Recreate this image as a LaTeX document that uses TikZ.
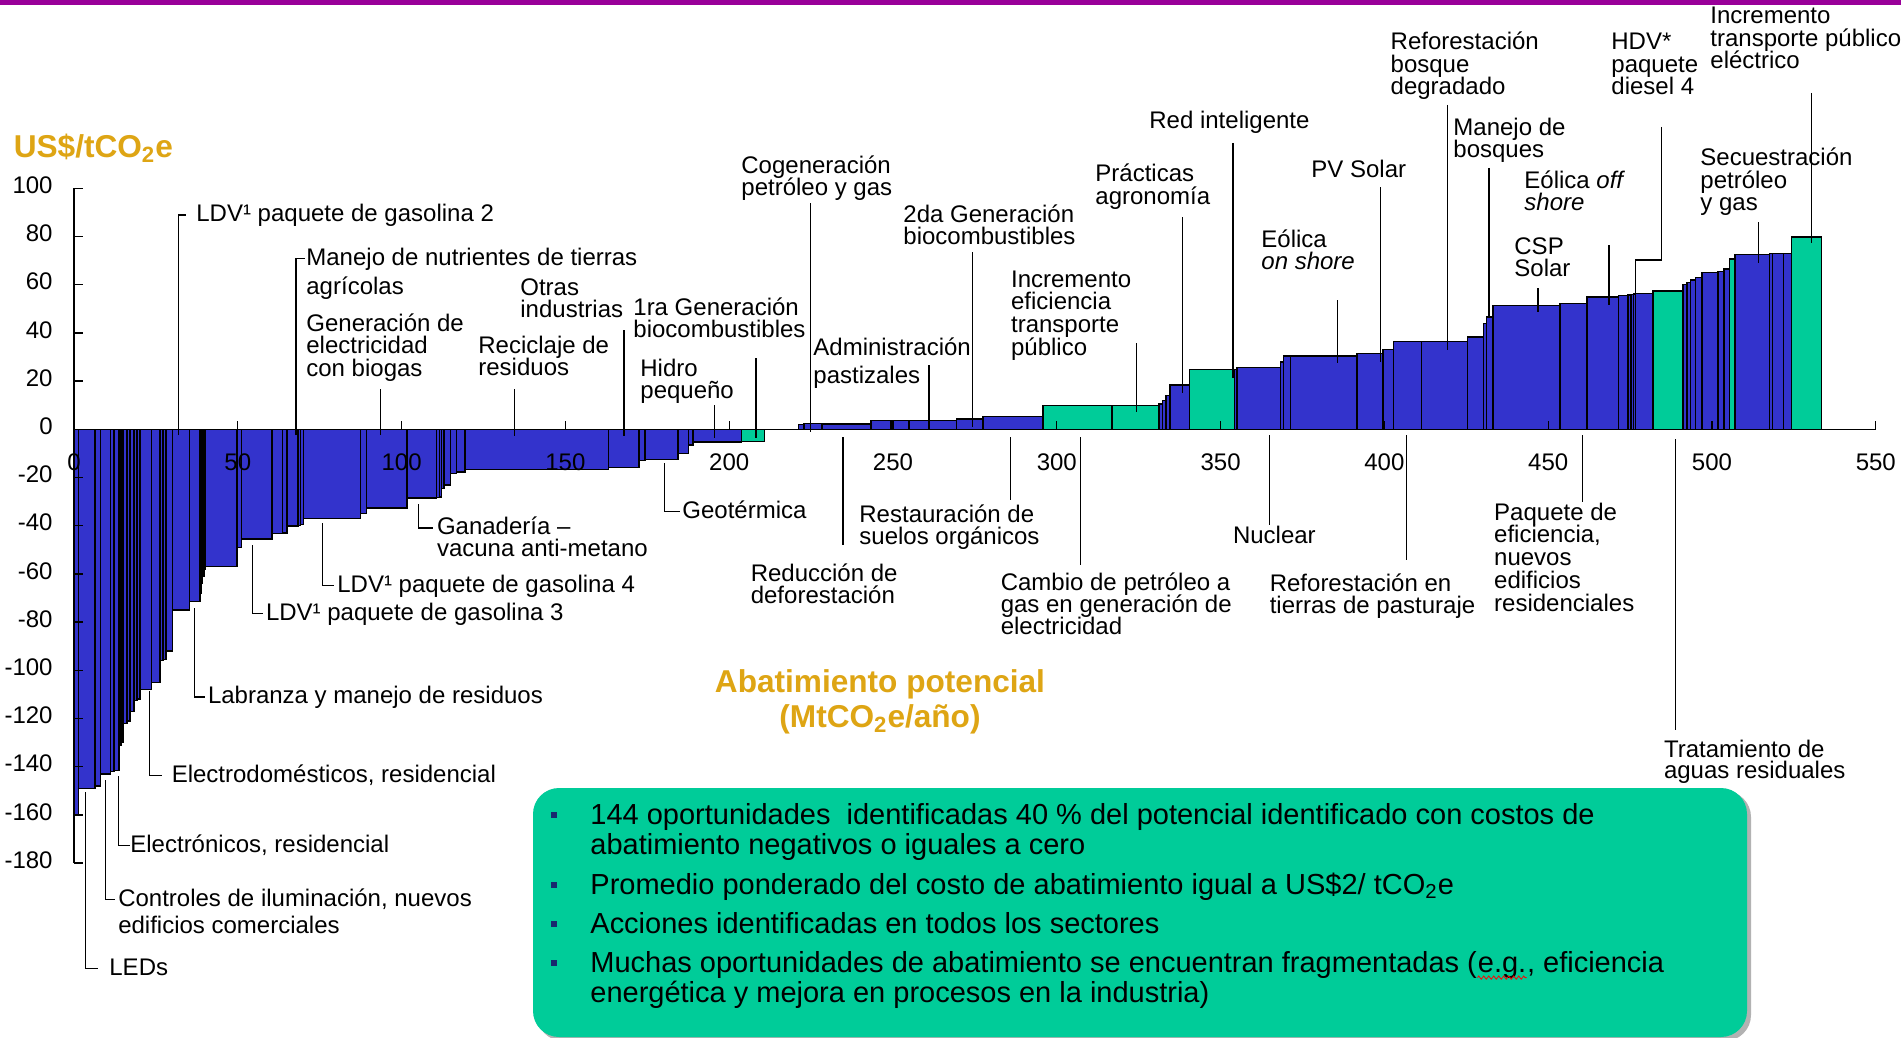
\documentclass[tikz,border=0pt]{standalone}
\usepackage{fontspec}
\setmainfont{Liberation Sans}
\usetikzlibrary{decorations.pathmorphing}
\definecolor{barblue}{RGB}{51,51,204}
\definecolor{bargreen}{RGB}{0,204,153}
\definecolor{boxgreen}{RGB}{0,204,153}
\definecolor{gold}{RGB}{222,165,20}
\definecolor{topline}{RGB}{153,0,153}
\definecolor{bulletblue}{RGB}{25,40,110}
\newcommand\lblfont{\fontsize{12pt}{11.2pt}\selectfont}
\newcommand\ttlfont{\fontsize{15.8pt}{18pt}\selectfont\bfseries}
\newcommand\boxfont{\fontsize{14.5pt}{17pt}\selectfont}
\newcommand\ml[2][11.2pt]{\vtop{\baselineskip=#1\relax\lineskiplimit=-100pt\lineskip=0pt\let\\\cr\halign{##\hfil\cr#2\crcr}}}
\begin{document}
\begin{tikzpicture}[x=0.5pt,y=-0.5pt,
  lbl/.style={font=\lblfont,inner sep=0pt,anchor=base west},
  ttl/.style={font=\ttlfont,text=gold,inner sep=0pt},
  btxt/.style={font=\boxfont,inner sep=0pt,anchor=base west},
  leader/.style={draw=black,line width=0.65pt},
  axis/.style={draw=black,line width=0.65pt},
  bar/.style={draw=black,line width=0.75pt,fill=barblue},
  gbar/.style={bar,fill=bargreen}]
\path[use as bounding box,fill=white] (0,0) rectangle (1901,1038);
\fill[topline] (0,0) rectangle (1901,5);

% ---------------- chart in data coordinates ----------------
\begin{scope}[shift={(74,429.3)},x=1.638pt,y=1.205pt]
\foreach \a/\b/\h in {0/1.3/-160,1.3/6.4/-149,6.4/8.1/-148,8.1/11.2/-143,11.2/12.2/-142,12.2/13.8/-141.5,
  13.8/14.4/-131,14.4/15.0/-130,15.0/16.2/-122,16.2/17.1/-121,17.1/18.3/-117,18.3/19.2/-112.5,19.2/20.1/-112,
  20.1/23.7/-108,23.7/26.3/-105,26.3/27.2/-96,27.2/28.1/-95.5,28.1/30.1/-92,30.1/35.2/-75,35.2/38.4/-71.5,
  38.4/38.9/-68,38.9/39.3/-64,39.3/39.7/-61,39.7/40.2/-58,40.2/49.8/-57,49.8/51.2/-49,51.2/60.5/-45.5,
  60.5/63.6/-43.3,63.6/65.0/-43,65.0/68.4/-40.2,68.4/69.2/-40,69.2/70.0/-39.5,70.0/87.5/-37,87.5/89.3/-35,
  89.3/101.6/-32.6,101.6/110.7/-28.5,110.7/111.5/-28.3,111.5/112.2/-28,112.2/113.0/-24.5,113.0/115.0/-23.2,
  115.0/116.8/-18.4,116.8/119.3/-17.7,119.3/163.1/-16.7,163.1/172.5/-15.9,172.5/174.3/-12.9,174.3/184.4/-12.6,
  184.4/187.5/-10.1,187.5/189.0/-6.6,189.0/203.8/-5.3,
  221.2/222.8/2.0,222.8/228.3/2.5,228.3/243.3/2.3,243.3/249.4/3.6,249.4/254.9/3.6,254.9/261.0/3.6,
  261.0/269.4/3.6,269.4/277.4/4.3,277.4/295.8/5.3,331.2/332.2/10.6,332.2/333.3/12,333.3/334.6/14,
  334.6/340.5/18.4,354.2/355.0/24.9,355.0/368.3/25.6,368.3/369.2/28,369.2/371.3/30.4,371.3/391.6/30.5,
  391.6/399.6/31.5,399.6/402.7/33.2,402.7/411.3/36.4,411.3/425.3/36.4,425.3/430.3/38.2,430.3/431.1/44,
  431.1/433.2/46.5,433.2/453.6/51.3,453.6/461.9/52.3,461.9/471.4/54.8,471.4/474.4/55.5,474.4/475.2/55.8,
  475.2/476.0/56,476.0/476.6/56.2,476.6/482.0/56.4,491.2/492.3/60,492.3/493.5/61,493.5/494.9/62,
  494.9/497.0/63,497.0/501.9/65,501.9/503.6/65.5,503.6/505.3/66.5,507.0/517.6/72.5,517.6/518.4/73,
  518.4/521.8/73,521.8/524.2/73}
  \draw[bar] (\a,0) rectangle (\b,\h);
\foreach \a/\b/\h in {203.8/210.8/-5.1,295.8/316.9/9.8,316.9/331.2/9.8,340.5/354.2/24.9,482.0/491.2/57.3,
  505.3/507.0/70.7,524.2/533.4/79.7}
  \draw[gbar] (\a,0) rectangle (\b,\h);
% axes
\draw[axis] (0,0) -- (550,0);
\draw[axis] (0,-180) -- (0,100);
\foreach \v in {50,100,...,550} \draw[axis] (\v,0) -- (\v,3.3);
\foreach \v in {-180,-160,...,100} \draw[axis] (0,\v) -- (2.65,\v);
\foreach \v [count=\i] in {-180,-160,...,100}
  \node[font=\lblfont,inner sep=0pt,anchor=east] (yl\i) at ([xshift=-10.5pt,yshift=1.5pt]0,\v) {\v};
\foreach \v [count=\i] in {0,50,...,550}
  \node[font=\lblfont,inner sep=0pt] (xl\i) at ([yshift=-16.5pt]\v,0) {\v};
\end{scope}

% ---------------- titles ----------------
\node[ttl,anchor=base west] (ytitle) at (13.4,157.3) {US\$/tCO\textsubscript{2}e};
\node[ttl,anchor=base] (xtitle1) at (880,692) {Abatimiento potencial};
\node[ttl,anchor=base] (xtitle2) at (880,727) {(MtCO\textsubscript{2}e/año)};

% ---------------- labels above the axis ----------------
\node[lbl] (t1) at (196,221) {LDV¹ paquete de gasolina 2};
\coordinate (t1a) at (178.6,435); \coordinate (t1b) at (186,215);
\draw[leader] (t1a) |- (t1b);

\node[lbl] (t2) at (306,265) {Manejo de nutrientes de tierras};
\node[lbl] (t2x) at (306,294) {agrícolas};
\coordinate (t2a) at (296,435); \coordinate (t2b) at (305,258.5);
\draw[leader] (t2a) |- (t2b);

\node[lbl] (t3) at (306,331) {\ml[11.25pt]{Generación de\\electricidad\\con biogas}};
\coordinate (t3a) at (380.4,389); \coordinate (t3b) at (380.4,435);
\draw[leader] (t3a) -- (t3b);

\node[lbl] (t4) at (520,295) {\ml{Otras\\industrias}};
\coordinate (t4a) at (624,330); \coordinate (t4b) at (624,436);
\draw[leader] (t4a) -- (t4b);

\node[lbl] (t5) at (478,353.5) {\ml{Reciclaje de\\residuos}};
\coordinate (t5a) at (514.7,389); \coordinate (t5b) at (514.7,436);
\draw[leader] (t5a) -- (t5b);

\node[lbl] (t6) at (633,315) {\ml{1ra Generación\\biocombustibles}};
\coordinate (t6a) at (756,358); \coordinate (t6b) at (756,438);
\draw[leader] (t6a) -- (t6b);

\node[lbl] (t7) at (640,376) {\ml{Hidro\\pequeño}};
\coordinate (t7a) at (714.7,405); \coordinate (t7b) at (714.7,438);
\draw[leader] (t7a) -- (t7b);

\node[lbl] (t8) at (741,173) {\ml{Cogeneración\\petróleo y gas}};
\coordinate (t8a) at (810.7,203); \coordinate (t8b) at (810.7,432);
\draw[leader] (t8a) -- (t8b);

\node[lbl] (t9) at (813,355) {\ml[14pt]{Administración\\pastizales}};
\coordinate (t9a) at (929,365); \coordinate (t9b) at (929,427);
\draw[leader] (t9a) -- (t9b);

\node[lbl] (t10) at (903,222) {\ml{2da Generación\\biocombustibles}};
\coordinate (t10a) at (972.8,252); \coordinate (t10b) at (972.8,427);
\draw[leader] (t10a) -- (t10b);

\node[lbl] (t11) at (1010.7,287) {\ml[11.4pt]{Incremento\\eficiencia\\transporte\\público}};
\coordinate (t11a) at (1136.6,343); \coordinate (t11b) at (1136.6,412);
\draw[leader] (t11a) -- (t11b);

\node[lbl] (t12) at (1095,182) {\ml{Prácticas\\agronomía}};
\coordinate (t12a) at (1182.6,217); \coordinate (t12b) at (1182.6,393);
\draw[leader] (t12a) -- (t12b);

\node[lbl] (t13) at (1149,128) {Red inteligente};
\coordinate (t13a) at (1233,143); \coordinate (t13b) at (1233,378);
\draw[leader] (t13a) -- (t13b);

\node[lbl] (t14) at (1311,177.5) {PV Solar};
\coordinate (t14a) at (1380.6,187); \coordinate (t14b) at (1380.6,362);
\draw[leader] (t14a) -- (t14b);

\node[lbl] (t15) at (1261,247) {\ml{Eólica\\\itshape on shore}};
\coordinate (t15a) at (1337.6,300); \coordinate (t15b) at (1337.6,363);
\draw[leader] (t15a) -- (t15b);

\node[lbl] (t16) at (1390.3,50) {\ml{Reforestación\\bosque\\degradado}};
\coordinate (t16a) at (1447.3,105); \coordinate (t16b) at (1447.3,350);
\draw[leader] (t16a) -- (t16b);

\node[lbl] (t17) at (1453,135) {\ml{Manejo de\\bosques}};
\coordinate (t17a) at (1489,168); \coordinate (t17b) at (1489,317);
\draw[leader] (t17a) -- (t17b);

\node[lbl] (t18) at (1524,189) {\ml[10.8pt]{Eólica \textit{off}\\\itshape shore}};
\coordinate (t18a) at (1609,245); \coordinate (t18b) at (1609,305);
\draw[leader] (t18a) -- (t18b);

\node[lbl] (t19) at (1514,254) {\ml{CSP\\Solar}};
\coordinate (t19a) at (1538,288); \coordinate (t19b) at (1538,312);
\draw[leader] (t19a) -- (t19b);

\node[lbl] (t20) at (1611,50) {\ml{HDV*\\paquete\\diesel 4}};
\coordinate (t20a) at (1661.6,127); \coordinate (t20b) at (1661.6,260);
\coordinate (t20c) at (1635.3,260); \coordinate (t20d) at (1635.3,303);
\draw[leader] (t20a) -- (t20b) -- (t20c) -- (t20d);

\node[lbl] (t21) at (1710,24) {\ml{Incremento\\transporte público\\eléctrico}};
\coordinate (t21a) at (1811.6,93); \coordinate (t21b) at (1811.6,243);
\draw[leader] (t21a) -- (t21b);

\node[lbl] (t22) at (1700,166) {\ml{Secuestración\\petróleo\\y gas}};
\coordinate (t22a) at (1758.5,222); \coordinate (t22b) at (1758.5,263);
\draw[leader] (t22a) -- (t22b);

% ---------------- labels below the axis ----------------
\node[lbl] (b1) at (436.6,534.5) {\ml[10.8pt]{Ganadería –\\vacuna anti-metano}};
\coordinate (b1a) at (418.5,504); \coordinate (b1b) at (433,528);
\draw[leader] (b1a) |- (b1b);

\node[lbl] (b2) at (337,592) {LDV¹ paquete de gasolina 4};
\coordinate (b2a) at (322.3,523); \coordinate (b2b) at (334,585.5);
\draw[leader] (b2a) |- (b2b);

\node[lbl] (b3) at (265.6,620) {LDV¹ paquete de gasolina 3};
\coordinate (b3a) at (252.2,545); \coordinate (b3b) at (263,613.5);
\draw[leader] (b3a) |- (b3b);

\node[lbl] (b4) at (207.6,703.5) {Labranza y manejo de residuos};
\coordinate (b4a) at (194.5,608); \coordinate (b4b) at (205,697);
\draw[leader] (b4a) |- (b4b);

\node[lbl] (b5) at (171.4,782) {Electrodomésticos, residencial};
\coordinate (b5a) at (149.3,691); \coordinate (b5b) at (162,775.5);
\draw[leader] (b5a) |- (b5b);

\node[lbl] (b6) at (130,852) {Electrónicos, residencial};
\coordinate (b6a) at (118.2,776); \coordinate (b6b) at (130,845.5);
\draw[leader] (b6a) |- (b6b);

\node[lbl] (b7) at (117.9,906) {\ml[13.85pt]{Controles de iluminación, nuevos\\edificios comerciales}};
\coordinate (b7a) at (105.6,780); \coordinate (b7b) at (115,899.5);
\draw[leader] (b7a) |- (b7b);

\node[lbl] (b8) at (109,975) {LEDs};
\coordinate (b8a) at (85.5,792); \coordinate (b8b) at (97.6,968.5);
\draw[leader] (b8a) |- (b8b);

\node[lbl] (b9) at (682,518) {Geotérmica};
\coordinate (b9a) at (664.5,463); \coordinate (b9b) at (680,511.5);
\draw[leader] (b9a) |- (b9b);

\node[lbl] (b10) at (750.4,581) {\ml{Reducción de\\deforestación}};
\coordinate (b10a) at (842.9,437); \coordinate (b10b) at (842.9,545);
\draw[leader] (b10a) -- (b10b);

\node[lbl] (b11) at (859,522) {\ml{Restauración de\\suelos orgánicos}};
\coordinate (b11a) at (1010.7,437); \coordinate (b11b) at (1010.7,500);
\draw[leader] (b11a) -- (b11b);

\node[lbl] (b12) at (1000.4,590) {\ml{Cambio de petróleo a\\gas en generación de\\electricidad}};
\coordinate (b12a) at (1080.8,437); \coordinate (b12b) at (1080.8,565);
\draw[leader] (b12a) -- (b12b);

\node[lbl] (b13) at (1232.6,543.7) {Nuclear};
\coordinate (b13a) at (1269.2,435); \coordinate (b13b) at (1269.2,525);
\draw[leader] (b13a) -- (b13b);

\node[lbl] (b14) at (1269.4,591) {\ml{Reforestación en\\tierras de pasturaje}};
\coordinate (b14a) at (1406.6,435); \coordinate (b14b) at (1406.6,560);
\draw[leader] (b14a) -- (b14b);

\node[lbl] (b15) at (1493.8,520) {\ml[11.4pt]{Paquete de\\eficiencia,\\nuevos\\edificios\\residenciales}};
\coordinate (b15a) at (1582.2,435); \coordinate (b15b) at (1582.2,502);
\draw[leader] (b15a) -- (b15b);

\node[lbl] (b16) at (1663.6,757) {\ml[10.6pt]{Tratamiento de\\aguas residuales}};
\coordinate (b16a) at (1675.2,439); \coordinate (b16b) at (1675.2,730);
\draw[leader] (b16a) -- (b16b);

% ---------------- summary box ----------------
\fill[black!30,rounded corners=13pt] (537,791) rectangle (1751,1041);
\fill[boxgreen,rounded corners=13pt] (533,788) rectangle (1747,1037);
\foreach \yy in {815,885,924,963}
  \fill[bulletblue] (551,\yy-3) rectangle (557,\yy+3);
\node[btxt] (p1) at (590,824) {144 oportunidades\hspace{4pt} identificadas 40 \% del potencial identificado con costos de};
\node[btxt] (p1b) at (590,854) {abatimiento negativos o iguales a cero};
\node[btxt] (p2) at (590,894) {Promedio ponderado del costo de abatimiento igual a US\$2/ tCO\textsubscript{2}e};
\node[btxt] (p3) at (590,933) {Acciones identificadas en todos los sectores};
\node[btxt] (p4a) at (590,972) {Muchas oportunidades de abatimiento se encuentran fragmentadas (};
\node[btxt] (p4b) at (p4a.base east) {e.g.};
\node[btxt] (p4c) at (p4b.base east) {, eficiencia};
\node[btxt] (p4d) at (590,1002) {energética y mejora en procesos en la industria)};
\draw[red,line width=0.4pt,decorate,decoration={zigzag,amplitude=0.8pt,segment length=2.5pt}]
  ([yshift=-2.8pt]p4b.base west) -- ([yshift=-2.8pt]p4b.base east);
\end{tikzpicture}
\end{document}
